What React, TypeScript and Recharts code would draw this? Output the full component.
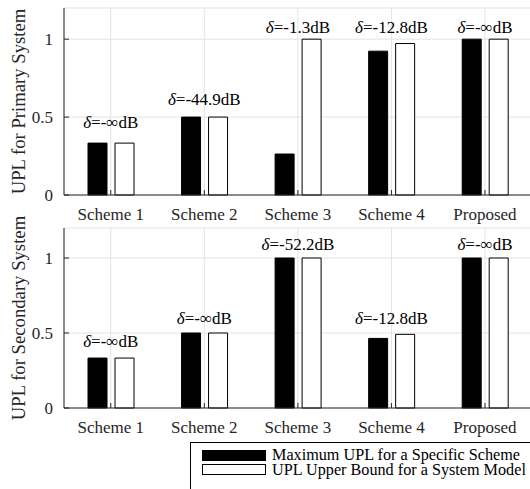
import React from 'react';
import {
  ComposedChart,
  Bar,
  XAxis,
  YAxis,
  CartesianGrid,
  ReferenceDot,
  Legend,
} from 'recharts';

const categories = ['Scheme 1', 'Scheme 2', 'Scheme 3', 'Scheme 4', 'Proposed'];

const primaryMax = [0.333, 0.5, 0.263, 0.923, 1];
const primaryBound = [0.333, 0.5, 1, 0.972, 1];
const primaryDelta = ['-\u221e', '-44.9', '-1.3', '-12.8', '-\u221e'];
const primaryNoteY = [0.47, 0.615, 1.077, 1.077, 1.08];

const secondaryMax = [0.333, 0.5, 1, 0.464, 1];
const secondaryBound = [0.333, 0.5, 1, 0.491, 1];
const secondaryDelta = ['-\u221e', '-\u221e', '-52.2', '-12.8', '-\u221e'];
const secondaryNoteY = [0.447, 0.598, 1.093, 0.598, 1.093];

const yTicks = [0, 0.5, 1];

const SERIES = [
  { key: 'max', label: 'Maximum UPL for a Specific Scheme', color: '#000000' },
  { key: 'bound', label: 'UPL Upper Bound for a System Model', color: '#ffffff' },
];

const FONT = "'Liberation Serif', 'Times New Roman', serif";
const AXIS = '#262626';
const GRID = '#e3e3e3';

function buildRows(max: number[], bound: number[]) {
  return categories.map((c, i) => ({ name: c, max: max[i], bound: bound[i] }));
}

function NoteLabel(props: any) {
  const { viewBox, text } = props;
  return (
    <text
      x={viewBox.x}
      y={viewBox.y}
      dy="0.35em"
      textAnchor="middle"
      fontFamily={FONT}
      fontSize={17}
      fill="#000"
    >
      <tspan fontStyle="italic">δ</tspan>
      {`=${text}dB`}
    </text>
  );
}

function LegendBox(props: any) {
  const payload = props.payload || [];
  return (
    <div
      style={{
        width: 350,
        height: 60,
        boxSizing: 'border-box',
        border: '1px solid #000',
        background: '#fff',
        paddingTop: 5,
        paddingLeft: 11,
        fontFamily: FONT,
        fontSize: 16.2,
        color: '#000',
      }}
    >
      {payload.map((p: any) => (
        <div
          key={p.value}
          style={{ display: 'flex', alignItems: 'center', height: 14.5, lineHeight: '14.5px' }}
        >
          <span
            style={{
              display: 'inline-block',
              width: 64,
              height: 11,
              boxSizing: 'border-box',
              border: '1px solid #000',
              background: p.color,
            }}
          />
          <span style={{ marginLeft: 6, whiteSpace: 'nowrap' }}>{p.value}</span>
        </div>
      ))}
    </div>
  );
}

function Panel({
  max,
  bound,
  deltas,
  noteY,
  ylabel,
  height,
  topMargin,
  bottomMargin,
  legendTop,
}: {
  max: number[];
  bound: number[];
  deltas: string[];
  noteY: number[];
  ylabel: string;
  height: number;
  topMargin: number;
  bottomMargin: number;
  legendTop?: number;
}) {
  const data = buildRows(max, bound);
  return (
    <ComposedChart
      width={540}
      height={height}
      data={data}
      margin={{ top: topMargin, right: 8.25, left: 0, bottom: bottomMargin }}
      barSize={19}
      barGap={8}
      style={{ fontFamily: FONT }}
    >
      <CartesianGrid stroke={GRID} xAxisId="bottom" yAxisId="left" />
      <XAxis
        xAxisId="bottom"
        dataKey="name"
        height={30}
        tickSize={-5}
        tickMargin={18}
        axisLine={{ stroke: AXIS }}
        tickLine={{ stroke: AXIS }}
        tick={{ fontSize: 17, fill: AXIS, fontFamily: FONT }}
        interval={0}
      />
      <XAxis
        xAxisId="top"
        dataKey="name"
        orientation="top"
        height={0}
        tickSize={-5}
        axisLine={{ stroke: AXIS }}
        tickLine={{ stroke: AXIS }}
        tick={false}
        interval={0}
      />
      <YAxis
        yAxisId="left"
        width={64}
        domain={[0, 1.2]}
        ticks={yTicks}
        tickSize={-5}
        tickMargin={16}
        axisLine={{ stroke: AXIS }}
        tickLine={{ stroke: AXIS }}
        tick={{ fontSize: 17, fill: AXIS, fontFamily: FONT }}
        label={{
          content: (p: any) => {
            const vb = p.viewBox;
            const cy = vb.y + vb.height / 2;
            return (
              <text
                x={24.5}
                y={cy}
                transform={`rotate(-90, 24.5, ${cy})`}
                textAnchor="middle"
                fontFamily={FONT}
                fontSize={18.7}
                fill={AXIS}
              >
                {ylabel}
              </text>
            );
          },
        }}
      />
      <YAxis
        yAxisId="right"
        orientation="right"
        width={0}
        domain={[0, 1.2]}
        ticks={yTicks}
        tickSize={-5}
        axisLine={{ stroke: AXIS }}
        tickLine={{ stroke: AXIS }}
        tick={false}
      />
      {SERIES.map((s) => (
        <Bar
          key={s.key}
          xAxisId="bottom"
          yAxisId="left"
          dataKey={s.key}
          name={s.label}
          fill={s.color}
          stroke="#000"
          strokeWidth={1}
          isAnimationActive={false}
        />
      ))}
      {categories.map((c, i) => (
        <ReferenceDot
          key={c}
          xAxisId="bottom"
          yAxisId="left"
          x={c}
          y={noteY[i]}
          r={0}
          fill="none"
          stroke="none"
          label={<NoteLabel text={deltas[i]} />}
        />
      ))}
      {legendTop !== undefined && (
        <Legend
          layout="vertical"
          verticalAlign="middle"
          align="center"
          wrapperStyle={{ left: 190, top: legendTop }}
          content={<LegendBox />}
        />
      )}
    </ComposedChart>
  );
}

export default function App() {
  return (
    <div
      style={{
        position: 'absolute',
        left: 0,
        top: 0,
        width: 530,
        height: 489,
        overflow: 'hidden',
        background: '#fff',
      }}
    >
      <div style={{ position: 'absolute', left: 0, top: 0 }}>
        <Panel
          max={primaryMax}
          bound={primaryBound}
          deltas={primaryDelta}
          noteY={primaryNoteY}
          ylabel="UPL for Primary System"
          height={230}
          topMargin={8}
          bottomMargin={5}
        />
      </div>
      <div style={{ position: 'absolute', left: 0, top: 206 }}>
        <Panel
          max={secondaryMax}
          bound={secondaryBound}
          deltas={secondaryDelta}
          noteY={secondaryNoteY}
          ylabel="UPL for Secondary System"
          height={283}
          topMargin={22}
          bottomMargin={51}
          legendTop={236}
        />
      </div>
    </div>
  );
}
